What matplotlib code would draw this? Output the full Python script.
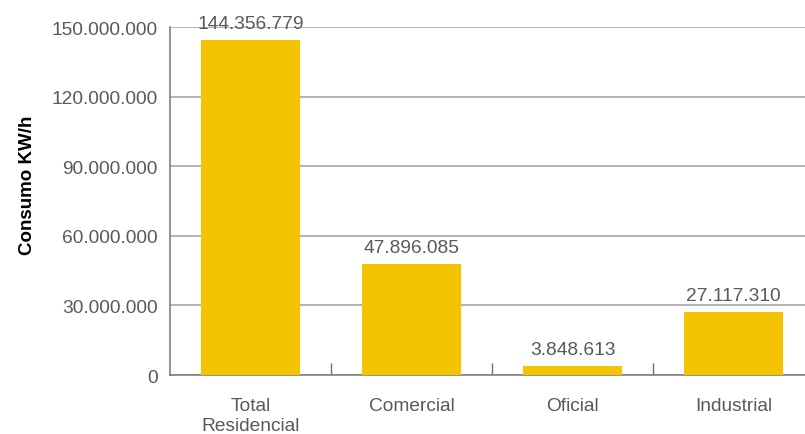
import matplotlib.pyplot as plt
from matplotlib.ticker import FuncFormatter

categories = ["Total\nResidencial", "Comercial", "Oficial", "Industrial"]
consumo = [144356779, 47896085, 3848613, 27117310]
y_ticks = [0, 30000000, 60000000, 90000000, 120000000, 150000000]

BAR_COLOR = "#F5C400"
TEXT_GRAY = "#595959"
GRID_GRAY = "#A6A6A6"


def fmt_miles(v, pos=None):
    return f"{int(v):,}".replace(",", ".")


def main():
    plt.rcParams["font.family"] = ["Liberation Sans", "DejaVu Sans"]
    fig = plt.figure(figsize=(8.05, 4.35), dpi=100)
    ax = fig.add_axes([0.2112, 0.1356, 0.8, 0.8])

    x = list(range(len(categories)))
    ax.bar(x, consumo, width=0.62, color=BAR_COLOR, zorder=3)
    for xi, v in zip(x, consumo):
        ax.text(xi, v + 3300000, fmt_miles(v), ha="center", va="bottom",
                fontsize=13.8, color=TEXT_GRAY)

    ax.set_xlim(-0.5, 3.5)
    ax.set_ylim(0, 150000000)
    ax.set_yticks(y_ticks)
    ax.yaxis.set_major_formatter(FuncFormatter(fmt_miles))
    ax.grid(axis="y", color=GRID_GRAY, linewidth=1.2, zorder=0)

    ax.set_xticks(x)
    ax.set_xticklabels(categories, fontsize=13.8, color=TEXT_GRAY, linespacing=1.25)
    ax.tick_params(axis="x", which="major", length=0, pad=16)
    ax.set_xticks([0.5, 1.5, 2.5], minor=True)
    ax.tick_params(axis="x", which="minor", direction="in", length=9,
                   color="#707070", width=1)
    ax.tick_params(axis="y", length=0, labelsize=13.8, labelcolor=TEXT_GRAY, pad=9)

    for s in ["top", "right"]:
        ax.spines[s].set_visible(False)
    ax.spines["left"].set_color("#808080")
    ax.spines["bottom"].set_color("#808080")
    ax.spines["left"].set_linewidth(1.2)
    ax.spines["bottom"].set_linewidth(1.2)

    ax.set_ylabel("Consumo KW/h", fontsize=13.5, fontweight="bold", color="black")
    ax.yaxis.set_label_coords(-0.208, 0.549)

    fig.savefig("out.png", dpi=100)
    plt.close(fig)


if __name__ == "__main__":
    main()
